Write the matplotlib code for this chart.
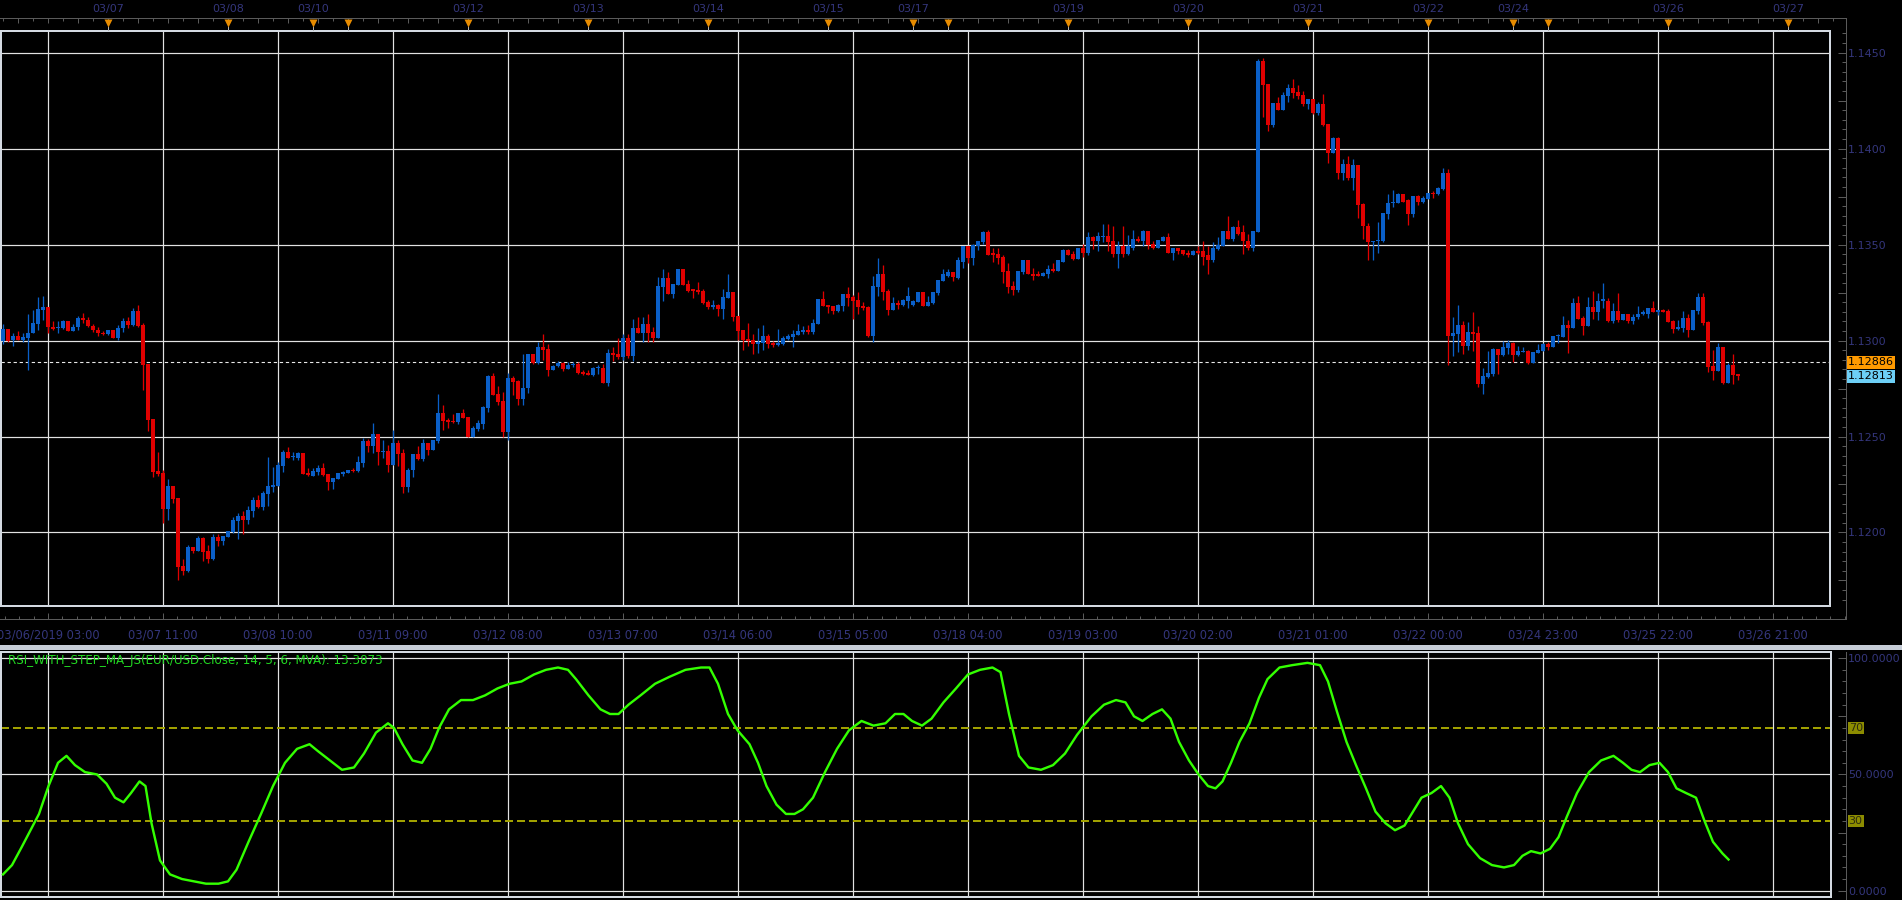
import matplotlib
matplotlib.use("Agg")
import matplotlib.pyplot as plt
import numpy as np
from matplotlib.patches import Rectangle
from matplotlib.ticker import FixedLocator, MultipleLocator
from matplotlib.transforms import blended_transform_factory

# prices are kept as pips above 1.1000
BASE = 1.1
PIP = 0.0001

opens = [
    299.6, 306.2, 300.1, 302.5, 300.4, 301.5, 303.7, 308.8, 316.1, 317.6,
    307.0, 306.5, 306.3, 310.3, 304.8, 306.9, 311.9, 310.9, 307.7, 305.6,
    303.9, 303.2, 305.6, 301.1, 306.3, 310.3, 308.3, 315.6, 308.3, 287.9,
    259.2, 232.2, 231.0, 212.2, 224.2, 218.0, 182.5, 179.9, 192.4, 190.3,
    197.1, 190.3, 186.1, 197.6, 195.5, 197.6, 200.2, 206.0, 208.6, 206.5,
    211.2, 216.9, 213.3, 220.1, 223.7, 224.2, 234.7, 242.0, 239.1, 238.8,
    241.5, 231.0, 229.4, 231.5, 233.6, 230.5, 226.3, 227.9, 230.5, 231.0,
    232.6, 232.0, 236.2, 247.7, 245.1, 251.4, 242.0, 242.5, 235.2, 246.7,
    241.4, 223.7, 232.5, 240.9, 238.3, 246.6, 243.0, 247.7, 262.3, 258.6,
    258.1, 257.6, 262.3, 260.2, 249.8, 253.9, 256.5, 264.9, 281.6, 272.2,
    268.6, 252.4, 280.6, 279.0, 269.6, 275.1, 293.1, 288.4, 296.7, 295.7,
    284.7, 286.8, 288.4, 285.3, 287.3, 287.8, 283.7, 283.2, 282.1, 285.8,
    285.8, 278.0, 293.6, 293.1, 291.5, 301.4, 292.0, 306.6, 304.0, 308.7,
    304.6, 301.4, 328.0, 332.7, 324.4, 329.1, 337.0, 329.6, 326.5, 326.5,
    326.0, 320.2, 317.6, 318.7, 316.6, 322.3, 325.4, 312.9, 305.6, 300.9,
    300.4, 298.3, 298.8, 302.5, 298.8, 297.8, 298.3, 300.9, 302.0, 303.0,
    304.6, 305.6, 304.6, 308.8, 321.8, 318.7, 318.2, 315.6, 318.2, 324.4,
    322.9, 321.3, 318.2, 317.7, 302.5, 328.1, 334.9, 326.0, 316.1, 319.7,
    318.7, 320.8, 318.7, 320.3, 325.5, 318.2, 319.7, 325.0, 331.2, 333.8,
    335.9, 332.8, 341.1, 349.0, 343.2, 349.5, 351.1, 356.3, 345.3, 345.3,
    343.7, 336.4, 328.6, 326.5, 335.9, 341.7, 334.9, 334.4, 333.8, 334.9,
    337.0, 336.4, 341.1, 347.4, 345.3, 342.7, 348.4, 345.8, 353.7, 351.6,
    353.7, 354.7, 351.6, 345.3, 349.5, 345.3, 348.4, 353.1, 352.1, 357.3,
    350.5, 348.4, 352.1, 353.7, 345.8, 348.4, 346.9, 345.8, 344.8, 346.4,
    346.4, 344.3, 341.7, 347.9, 349.5, 357.3, 353.1, 358.9, 356.3, 352.1,
    348.4, 356.3, 445.5, 433.5, 412.1, 423.6, 419.9, 427.2, 431.4, 429.3,
    427.8, 423.1, 425.7, 418.4, 423.1, 412.6, 397.5, 405.3, 387.1, 391.8,
    384.5, 391.2, 370.9, 359.9, 351.1, 351.6, 352.1, 365.7, 371.4, 371.9,
    376.1, 373.0, 365.7, 375.1, 372.4, 373.5, 377.1, 376.1, 378.7, 387.1,
    302.2, 303.6, 308.3, 297.3, 304.6, 304.1, 277.5, 281.2, 282.7, 295.8,
    292.6, 296.3, 298.9, 292.6, 294.2, 294.7, 288.5, 293.7, 294.7, 298.4,
    296.8, 302.2, 302.0, 308.3, 306.7, 319.8, 311.9, 307.8, 317.7, 315.1,
    320.8, 320.8, 310.4, 315.6, 310.9, 314.0, 310.4, 312.5, 313.7, 314.0,
    317.2, 315.1, 316.1, 315.6, 310.4, 306.2, 306.7, 311.9, 305.7, 315.6,
    322.9, 309.9, 286.9, 284.3, 296.8, 278.0, 287.4, 282.7,
]
highs = [
    308.8, 306.2, 303.9, 305.1, 303.9, 314.0, 316.1, 322.5, 323.4, 317.6,
    310.3, 310.3, 310.9, 310.3, 308.8, 312.6, 314.3, 312.4, 308.8, 307.0,
    305.1, 305.6, 305.6, 308.3, 311.7, 312.4, 317.0, 318.7, 309.1, 287.9,
    259.2, 242.1, 232.6, 227.9, 224.2, 218.0, 186.1, 193.4, 192.4, 198.0,
    197.8, 193.4, 199.2, 199.2, 198.1, 201.0, 208.2, 210.1, 211.2, 213.8,
    218.5, 219.5, 221.6, 239.4, 234.1, 236.7, 243.0, 244.6, 242.0, 242.0,
    241.5, 233.6, 233.6, 235.0, 236.2, 230.5, 228.4, 231.0, 232.0, 232.6,
    233.6, 239.9, 249.3, 248.8, 257.1, 251.4, 248.2, 245.6, 253.4, 248.2,
    243.5, 233.6, 240.9, 245.1, 248.7, 246.6, 248.2, 272.2, 266.5, 259.7,
    261.8, 262.3, 264.4, 260.2, 255.5, 258.6, 265.9, 282.1, 283.2, 276.4,
    273.3, 283.2, 281.6, 279.5, 293.1, 293.1, 293.1, 299.3, 303.5, 298.3,
    287.3, 289.5, 288.9, 288.9, 288.9, 288.9, 284.7, 284.7, 286.3, 287.3,
    287.8, 295.7, 296.7, 301.4, 303.5, 303.5, 311.3, 312.4, 312.4, 314.0,
    307.2, 333.3, 337.4, 335.9, 329.6, 337.0, 337.0, 331.7, 326.5, 330.7,
    327.0, 321.3, 321.3, 319.2, 327.0, 334.8, 325.4, 312.9, 305.6, 309.3,
    303.5, 306.6, 308.2, 303.5, 299.9, 306.1, 302.5, 303.5, 305.6, 308.8,
    307.7, 308.3, 311.4, 321.8, 326.0, 318.7, 318.2, 319.2, 324.4, 328.1,
    323.9, 325.5, 320.3, 318.2, 333.8, 343.2, 339.6, 327.0, 322.9, 321.3,
    321.8, 328.1, 321.3, 325.5, 325.5, 323.4, 325.5, 331.7, 337.0, 337.5,
    335.9, 343.7, 349.0, 349.5, 350.5, 351.6, 357.3, 357.8, 348.4, 348.4,
    344.8, 340.6, 331.2, 336.4, 341.7, 341.7, 338.0, 336.4, 335.9, 339.1,
    340.6, 342.2, 347.9, 347.9, 346.4, 348.4, 350.5, 356.3, 354.7, 356.3,
    360.5, 360.5, 359.9, 351.6, 359.4, 355.2, 357.8, 354.7, 357.8, 357.3,
    352.1, 352.6, 354.2, 355.8, 348.4, 348.4, 346.9, 346.9, 347.4, 349.0,
    352.1, 349.5, 351.1, 353.7, 357.3, 365.1, 359.9, 363.0, 360.4, 355.7,
    356.8, 446.5, 447.1, 433.5, 423.6, 426.7, 429.3, 433.5, 436.1, 433.0,
    429.9, 425.7, 425.7, 424.1, 428.3, 412.6, 405.9, 405.9, 394.4, 395.9,
    394.4, 391.2, 371.4, 361.0, 352.1, 362.0, 366.2, 376.1, 378.2, 376.6,
    376.1, 373.5, 375.1, 375.6, 375.1, 377.1, 377.7, 379.8, 389.7, 389.1,
    312.0, 318.7, 310.4, 309.9, 314.6, 307.8, 285.9, 294.7, 296.3, 295.8,
    299.9, 300.5, 299.4, 297.3, 296.8, 295.2, 294.2, 298.4, 298.9, 299.4,
    302.6, 303.6, 313.0, 310.9, 321.9, 323.4, 313.0, 322.9, 326.0, 324.5,
    330.2, 321.9, 319.8, 325.0, 314.0, 314.0, 314.0, 318.2, 316.1, 317.2,
    320.8, 316.1, 316.6, 316.6, 310.9, 310.9, 315.6, 314.0, 316.1, 324.5,
    324.5, 310.4, 295.2, 298.9, 296.8, 288.5, 293.2, 282.7,
]
lows = [
    298.3, 299.0, 297.3, 300.1, 299.0, 284.8, 303.7, 305.3, 310.9, 303.9,
    305.6, 303.9, 306.0, 304.8, 304.8, 305.6, 309.1, 306.9, 304.4, 302.2,
    302.9, 302.7, 301.1, 300.4, 304.3, 306.7, 307.4, 306.9, 274.0, 252.9,
    229.1, 229.6, 205.1, 206.5, 215.5, 175.2, 177.8, 179.3, 189.4, 190.3,
    185.1, 184.0, 185.6, 192.9, 193.4, 197.4, 199.7, 196.6, 199.2, 204.4,
    208.0, 212.7, 211.7, 213.8, 221.1, 224.2, 231.5, 238.8, 237.8, 237.8,
    230.5, 229.4, 229.4, 230.0, 229.4, 222.1, 222.7, 227.9, 229.6, 231.0,
    231.5, 231.5, 234.1, 242.0, 241.5, 235.2, 238.8, 231.5, 235.2, 234.7,
    220.5, 221.1, 228.9, 237.8, 237.2, 240.4, 243.0, 246.6, 253.4, 254.5,
    257.1, 256.5, 259.7, 249.8, 249.8, 252.9, 253.9, 262.8, 271.7, 266.5,
    249.8, 248.2, 271.7, 266.5, 266.5, 272.7, 287.9, 287.9, 290.0, 281.6,
    284.7, 286.3, 284.2, 285.3, 286.3, 282.7, 282.1, 282.1, 281.6, 282.7,
    278.0, 276.4, 289.4, 290.5, 289.9, 291.0, 289.4, 304.0, 299.3, 299.3,
    299.3, 301.4, 320.7, 324.4, 322.3, 329.1, 329.1, 325.4, 322.3, 324.4,
    319.2, 316.6, 316.6, 312.9, 311.3, 322.3, 310.3, 300.4, 295.2, 297.3,
    293.1, 293.6, 295.2, 296.2, 296.7, 297.3, 297.8, 300.4, 296.8, 303.0,
    303.6, 303.6, 303.6, 308.8, 318.2, 314.5, 314.0, 315.1, 315.6, 318.2,
    311.4, 314.0, 316.1, 302.0, 299.4, 323.4, 321.3, 313.5, 316.1, 316.6,
    318.2, 317.1, 318.2, 320.3, 318.2, 318.2, 319.2, 323.9, 331.2, 333.3,
    331.2, 332.3, 338.0, 340.6, 339.6, 346.9, 350.5, 344.8, 341.1, 340.1,
    330.2, 325.0, 323.9, 325.5, 334.4, 334.4, 331.7, 333.8, 333.8, 332.8,
    335.9, 336.4, 341.1, 344.8, 341.7, 342.7, 343.7, 344.8, 347.9, 346.4,
    351.1, 346.4, 343.7, 338.0, 343.7, 344.3, 347.4, 351.1, 349.5, 347.9,
    347.9, 348.4, 351.6, 345.8, 342.2, 345.3, 344.3, 343.7, 344.8, 345.3,
    339.6, 334.9, 341.1, 347.4, 349.0, 353.1, 352.1, 355.2, 345.3, 347.4,
    346.4, 356.3, 416.3, 409.0, 411.1, 419.9, 419.9, 424.1, 426.2, 425.7,
    422.0, 420.5, 417.9, 417.3, 411.6, 392.3, 397.5, 383.9, 383.4, 383.4,
    378.2, 363.6, 353.1, 342.2, 341.7, 345.8, 351.1, 363.1, 369.3, 371.4,
    372.4, 360.4, 364.1, 370.4, 371.4, 373.5, 374.5, 375.6, 378.2, 287.4,
    292.1, 294.2, 293.2, 295.2, 294.7, 275.9, 272.3, 280.6, 281.7, 282.7,
    292.1, 293.2, 289.0, 292.1, 294.2, 287.9, 288.5, 293.7, 294.7, 295.2,
    296.8, 298.9, 302.0, 293.7, 306.7, 311.4, 303.1, 307.8, 311.4, 310.9,
    317.2, 309.9, 309.3, 309.9, 310.9, 309.3, 308.8, 311.4, 313.5, 311.9,
    314.6, 313.5, 314.6, 309.9, 304.1, 305.7, 304.6, 302.0, 305.7, 314.0,
    308.3, 283.8, 279.6, 284.3, 277.5, 278.0, 277.5, 279.6,
]
closes = [
    306.2, 299.9, 302.5, 300.4, 301.8, 304.1, 309.3, 316.6, 317.6, 306.9,
    306.0, 306.7, 310.3, 304.8, 307.2, 311.9, 310.5, 307.4, 305.3, 303.9,
    303.2, 305.6, 301.1, 306.7, 310.3, 308.3, 315.6, 307.7, 287.4, 258.7,
    231.7, 230.5, 212.2, 224.2, 217.4, 181.9, 179.9, 192.4, 190.3, 197.1,
    189.8, 186.1, 197.6, 195.5, 198.1, 200.7, 206.5, 208.6, 206.5, 211.7,
    216.9, 213.3, 220.6, 224.2, 224.7, 235.2, 242.0, 238.8, 239.4, 241.5,
    230.5, 230.0, 232.0, 233.6, 230.0, 226.3, 228.4, 231.0, 231.5, 232.6,
    232.0, 236.7, 247.7, 245.1, 251.4, 242.0, 242.5, 235.2, 246.7, 241.0,
    223.7, 232.5, 240.9, 238.3, 246.6, 243.0, 248.2, 262.3, 258.1, 257.6,
    257.6, 262.3, 259.7, 249.8, 254.5, 257.1, 265.4, 281.6, 271.7, 268.0,
    252.4, 280.6, 278.5, 269.6, 275.3, 293.1, 288.4, 296.7, 295.2, 284.7,
    286.8, 288.4, 285.3, 287.3, 287.8, 283.2, 282.7, 282.1, 285.8, 286.3,
    278.0, 293.6, 292.6, 291.5, 301.4, 292.0, 306.6, 304.0, 308.7, 304.0,
    301.4, 328.6, 332.7, 324.4, 329.6, 337.0, 329.1, 326.0, 326.0, 325.4,
    319.7, 317.6, 318.7, 316.6, 322.8, 325.4, 312.4, 305.1, 300.4, 299.9,
    298.3, 299.3, 302.5, 298.3, 297.8, 298.8, 301.5, 302.5, 303.6, 305.1,
    305.6, 304.6, 309.3, 321.8, 318.2, 317.7, 315.6, 318.7, 324.4, 322.3,
    320.8, 317.7, 317.1, 302.5, 328.6, 334.9, 325.5, 316.1, 319.7, 318.7,
    321.3, 323.4, 320.8, 325.5, 318.2, 320.3, 325.5, 331.7, 334.4, 335.9,
    333.3, 341.7, 349.0, 343.2, 350.0, 351.6, 356.3, 344.8, 344.8, 343.2,
    335.9, 328.1, 326.5, 336.4, 341.7, 334.4, 333.8, 333.8, 335.4, 337.0,
    336.4, 341.7, 347.4, 344.8, 342.7, 348.4, 345.8, 353.7, 351.6, 354.2,
    354.7, 351.1, 345.3, 349.5, 345.3, 349.0, 353.1, 352.1, 357.3, 350.0,
    348.4, 352.6, 353.7, 345.8, 348.4, 346.4, 345.3, 344.8, 346.4, 345.8,
    343.7, 341.7, 348.4, 350.0, 357.3, 353.1, 358.9, 355.7, 351.6, 348.4,
    356.8, 445.5, 433.0, 412.1, 423.6, 419.9, 427.8, 431.4, 428.8, 427.2,
    423.1, 425.7, 418.4, 423.1, 412.1, 397.5, 405.3, 387.1, 391.8, 384.5,
    391.2, 370.4, 359.4, 351.1, 352.1, 352.6, 366.2, 371.9, 372.4, 376.1,
    372.4, 365.7, 375.1, 372.4, 374.0, 377.1, 376.1, 379.2, 387.1, 302.2,
    304.1, 308.3, 297.3, 304.6, 303.6, 277.5, 281.7, 283.2, 295.8, 292.6,
    296.8, 298.9, 292.6, 294.7, 294.7, 288.5, 294.2, 295.2, 298.4, 296.8,
    302.6, 302.6, 308.3, 306.7, 319.8, 311.4, 307.8, 317.7, 315.1, 320.8,
    321.3, 310.4, 315.6, 310.9, 314.0, 310.4, 312.5, 314.0, 314.7, 317.2,
    315.1, 316.1, 315.1, 309.9, 306.2, 307.2, 311.9, 305.7, 316.1, 322.9,
    309.3, 286.4, 284.3, 296.8, 278.0, 287.4, 282.2, 281.3,
]

# RSI line, read at these bar positions
rsi_bar = [
    0, 1.8, 3.8, 5.5, 7.2, 9.1, 11.0, 12.7, 14.4, 16.4,
    18.8, 20.7, 22.4, 24.1, 25.6, 27.3, 28.5, 29.7, 31.4, 33.4,
    35.8, 38.2, 40.6, 43.1, 45.0, 46.7, 49.1, 51.6, 54.0, 56.4,
    58.8, 61.3, 63.0, 65.4, 67.8, 70.2, 72.2, 74.6, 77.0, 78.2,
    79.9, 81.9, 83.8, 85.5, 87.2, 89.2, 91.6, 94.0, 96.4, 98.9,
    101.3, 103.7, 106.2, 108.6, 111.0, 113.0, 114.6, 117.1, 119.5, 121.4,
    123.1, 125.1, 127.5, 130.4, 133.3, 136.5, 139.6, 141.3, 143.0, 145.0,
    146.9, 149.3, 151.0, 152.7, 154.7, 156.6, 158.3, 160.0, 162.0, 164.4,
    166.8, 169.2, 171.7, 174.1, 176.5, 178.4, 180.1, 181.8, 183.8, 185.7,
    188.1, 190.6, 193.0, 195.4, 197.9, 199.5, 201.2, 203.2, 205.1, 207.6,
    210.0, 212.4, 214.8, 217.7, 220.2, 222.6, 224.5, 226.2, 227.9, 229.9,
    231.8, 233.5, 235.2, 237.2, 239.1, 241.0, 242.5, 243.9, 245.6, 247.3,
    249.3, 251.2, 252.9, 255.3, 257.8, 260.9, 263.4, 265.0, 266.8, 268.7,
    270.6, 272.6, 274.5, 276.5, 278.4, 280.3, 282.0, 283.7, 285.7, 287.6,
    289.3, 291.0, 293.0, 295.4, 297.8, 300.2, 302.2, 303.9, 305.6, 307.5,
    309.4, 311.1, 312.8, 314.8, 317.2, 319.6, 322.1, 324.0, 325.7, 327.4,
    329.3, 331.3, 333.0, 334.7, 336.6, 338.6, 340.3, 342.0, 343.9, 345.1,
]
rsi_val = [
    7, 11, 19, 26, 33, 45, 55, 58, 54, 51,
    50, 46, 40, 38, 42, 47, 45, 29, 13, 7,
    5, 4, 3, 3, 4, 9, 21, 33, 45, 55,
    61, 63, 60, 56, 52, 53, 59, 68, 72, 70,
    63, 56, 55, 61, 70, 78, 82, 82, 84, 87,
    89, 90, 93, 95, 96, 95, 91, 84, 78, 76,
    76, 80, 84, 89, 92, 95, 96, 96, 89, 76,
    69, 63, 55, 45, 37, 33, 33, 35, 40, 51,
    61, 69, 73, 71, 72, 76, 76, 73, 71, 74,
    81, 87, 93, 95, 96, 94, 76, 58, 53, 52,
    54, 59, 67, 75, 80, 82, 81, 75, 73, 76,
    78, 74, 64, 56, 50, 45, 44, 47, 55, 64,
    72, 83, 91, 96, 97, 98, 97, 90, 77, 64,
    54, 44, 34, 29, 26, 28, 34, 40, 42, 45,
    40, 29, 20, 14, 11, 10, 11, 15, 17, 16,
    18, 23, 32, 42, 51, 56, 58, 55, 52, 51,
    54, 55, 51, 44, 42, 40, 30, 21, 16, 13.4,
]

time_bars = [9, 32, 55, 78, 101, 124, 147, 170, 193, 216, 239, 262, 285, 308, 331, 354]
time_labels = ["03/06/2019 03:00", "03/07 11:00", "03/08 10:00", "03/11 09:00",
               "03/12 08:00", "03/13 07:00", "03/14 06:00", "03/15 05:00",
               "03/18 04:00", "03/19 03:00", "03/20 02:00", "03/21 01:00",
               "03/22 00:00", "03/24 23:00", "03/25 22:00", "03/26 21:00"]
day_bars = [21, 45, 62, 69, 93, 117, 141, 165, 182, 189, 213, 237, 261, 285, 302, 309, 333, 357]
day_labels = ["03/07", "03/08", "03/10", "", "03/12", "03/13", "03/14", "03/15", "03/17", "",
              "03/19", "03/20", "03/21", "03/22", "03/24", "", "03/26", "03/27"]
price_ticks = [1.1200, 1.1250, 1.1300, 1.1350, 1.1400, 1.1450]
rsi_ticks = [0, 50, 100]
rsi_levels = [70, 30]
ask_price = 1.12886
last_price = 1.12813
rsi_title = "RSI_WITH_STEP_MA_JS(EUR/USD.Close, 14, 5, 6, MVA): 13.3873"

# colours
BLUE = "#0a5fc8"
RED = "#e00000"
GRID = "#e2e2e2"
FRAME = "#d4dae2"
NAVY = "#34367c"
AXC = "#5a5a5a"
ORANGE = "#e88c00"
LIME = "#33ff00"
OLIVE = "#a0a000"

W, H = 1902, 900
PX = 0.72  # points per pixel at dpi 100

plt.rcParams["font.family"] = ["DejaVu Sans"]


def box(l, t, r, b):
    return [l / W, 1 - b / H, (r - l) / W, (b - t) / H]


def bar_at(x):
    # pixel column -> bar index (first bar at x=3, one bar every 5 px)
    return (x - 3) / 5.0


fig = plt.figure(figsize=(W / 100, H / 100), dpi=100, facecolor="black")

# background: panel separator and the vertical scale lines
bg = fig.add_axes([0, 0, 1, 1])
bg.set_xlim(0, W)
bg.set_ylim(H, 0)
bg.set_axis_off()
bg.set_zorder(-1)
bg.add_patch(Rectangle((0, 644.5), W, 5, color="#c6cdd7", lw=0))
bg.plot([1845.7, 1845.7], [18.3, 619.3], color=AXC, lw=PX)
bg.plot([1845.7, 1845.7], [651.7, 900], color=AXC, lw=PX)

o = BASE + np.array(opens) * PIP
h = BASE + np.array(highs) * PIP
l = BASE + np.array(lows) * PIP
c = BASE + np.array(closes) * PIP
idx = np.arange(len(o))
col = np.where(c >= o, BLUE, RED)
pmin, pmax = BASE + 161.7 * PIP, BASE + 461.4 * PIP

# ---- price panel ----
ax = fig.add_axes(box(1, 30.7, 1830, 606), facecolor="black")
ax.set_xticks(time_bars)
ax.set_yticks(price_ticks)
ax.set_xlim(bar_at(1), bar_at(1830))
ax.set_ylim(pmin, pmax)
ax.grid(True, color=GRID, lw=1.2 * PX)
ax.set_axisbelow(True)
ax.tick_params(length=0, labelbottom=False, labelleft=False)
for s in ax.spines.values():
    s.set_color(FRAME)
    s.set_linewidth(2 * PX)
ax.axhline(ask_price, color="#e8e8e8", lw=1.1 * PX, ls=(0, (3, 2.5)), zorder=2)
ax.vlines(idx, l, h, colors=col, lw=1.3 * PX, zorder=3)
ax.bar(idx, np.maximum(np.abs(c - o), 0.6 * PIP), bottom=np.minimum(o, c),
       width=0.8, color=col, lw=0, zorder=4)

# price scale on the right
ax_ps = fig.add_axes(box(1, 30.7, 1845.7, 606))
ax_ps.patch.set_visible(False)
ax_ps.set_xticks([])
for s in ax_ps.spines.values():
    s.set_visible(False)
ax_ps.yaxis.tick_right()
major = np.round(np.arange(1.1175, 1.1476, 0.0025), 4)
ax_ps.set_yticks(major, labels=[f"{v:.4f}" if any(abs(v - p) < 1e-6 for p in price_ticks) else ""
                                for v in major])
ax_ps.yaxis.set_minor_locator(MultipleLocator(0.0005))
ax_ps.set_ylim(pmin, pmax)
ax_ps.tick_params(axis="y", which="both", direction="in", color=AXC, width=PX,
                  labelsize=8, labelcolor=NAVY, pad=2.5 * PX)
ax_ps.tick_params(axis="y", which="major", length=8 * PX)
ax_ps.tick_params(axis="y", which="minor", length=4 * PX)
tr = blended_transform_factory(ax_ps.transAxes, ax_ps.transData)
ax_ps.text(1.0012, ask_price, f"{ask_price:.5f}", transform=tr, ha="left", va="center",
           fontsize=8, color="black",
           bbox=dict(boxstyle="square,pad=0.12", fc="#ff9a00", ec="none"))
ax_ps.text(1.0012, last_price, f"{last_price:.5f}", transform=tr, ha="left", va="center",
           fontsize=8, color="black",
           bbox=dict(boxstyle="square,pad=0.12", fc="#6dcff6", ec="none"))

# top date strip
ax_top = fig.add_axes(box(0, 18.3, 1845.7, 30.7))
ax_top.patch.set_visible(False)
for k, s in ax_top.spines.items():
    s.set_visible(k == "top")
ax_top.spines["top"].set_color(AXC)
ax_top.spines["top"].set_linewidth(PX)
ax_top.xaxis.tick_top()
ax_top.set_xticks(np.arange(3, 369, 6))
ax_top.xaxis.set_minor_locator(FixedLocator(np.arange(0, 369, 3)))
ax_top.set_yticks([])
ax_top.set_xlim(bar_at(0), bar_at(1845.7))
ax_top.set_ylim(0, 1)
ax_top.tick_params(axis="x", which="both", direction="in", color=AXC, width=PX, labeltop=False)
ax_top.tick_params(axis="x", which="major", length=5 * PX)
ax_top.tick_params(axis="x", which="minor", length=3 * PX)
ax_top.vlines(day_bars, 0, 0.4, colors="#b0b0b0", lw=PX)
ax_top.plot(day_bars, [0.6] * len(day_bars), "v", ms=6.3, color=ORANGE, mec="none")
for b, lab in zip(day_bars, day_labels):
    if lab:
        ax_top.text(b, 1 + (18.3 - 9) / 12.4, lab, ha="center", va="center",
                    color=NAVY, fontsize=8, clip_on=False)

# bottom time axis
ax_bot = fig.add_axes(box(0, 606, 1845.7, 619.3))
ax_bot.patch.set_visible(False)
for k, s in ax_bot.spines.items():
    s.set_visible(k == "bottom")
ax_bot.spines["bottom"].set_color(AXC)
ax_bot.spines["bottom"].set_linewidth(PX)
ax_bot.set_yticks([])
ax_bot.set_xticks(time_bars, labels=time_labels)
ax_bot.xaxis.set_minor_locator(FixedLocator(np.arange(9 - 3 * 2.875, 369, 2.875)))
ax_bot.set_xlim(bar_at(0), bar_at(1845.7))
ax_bot.tick_params(axis="x", which="both", direction="in", color=AXC, width=PX,
                   labelsize=8.3, labelcolor=NAVY, pad=6.5)
ax_bot.tick_params(axis="x", which="major", length=6 * PX)
ax_bot.tick_params(axis="x", which="minor", length=3 * PX)

# ---- RSI panel ----
ax_r = fig.add_axes(box(1, 651.7, 1830.7, 896.7), facecolor="black")
ax_r.set_xticks(time_bars)
ax_r.set_yticks(rsi_ticks)
ax_r.set_xlim(bar_at(1), bar_at(1830.7))
ax_r.set_ylim(-2.6, 102.8)
ax_r.grid(True, color=GRID, lw=1.2 * PX)
ax_r.set_axisbelow(True)
ax_r.tick_params(length=0, labelbottom=False, labelleft=False)
for s in ax_r.spines.values():
    s.set_color(FRAME)
    s.set_linewidth(2 * PX)
for lv in rsi_levels:
    ax_r.axhline(lv, color=OLIVE, lw=2 * PX, ls=(0, (4, 2)), zorder=2)
ax_r.plot(rsi_bar, rsi_val, color=LIME, lw=2.4 * PX, zorder=3)
ax_r.text(0.004, 0.963, rsi_title, transform=ax_r.transAxes, ha="left", va="center",
          fontsize=8.6, color="#22d822")

# RSI scale on the right
ax_rs = fig.add_axes(box(1, 651.7, 1845.7, 896.7))
ax_rs.patch.set_visible(False)
ax_rs.set_xticks([])
for s in ax_rs.spines.values():
    s.set_visible(False)
ax_rs.yaxis.tick_right()
ax_rs.set_yticks([0, 25, 50, 75, 100],
                 labels=[f"{v:.4f}" if v in rsi_ticks else "" for v in [0, 25, 50, 75, 100]])
ax_rs.yaxis.set_minor_locator(MultipleLocator(5))
ax_rs.set_ylim(-2.6, 102.8)
ax_rs.tick_params(axis="y", which="both", direction="in", color=AXC, width=PX,
                  labelsize=8, labelcolor=NAVY, pad=2.5 * PX)
ax_rs.tick_params(axis="y", which="major", length=8 * PX)
ax_rs.tick_params(axis="y", which="minor", length=4 * PX)
tr2 = blended_transform_factory(ax_rs.transAxes, ax_rs.transData)
for lv in rsi_levels:
    ax_rs.text(1.0016, lv, str(lv), transform=tr2, ha="left", va="center", fontsize=8,
               color="#2a2a10", bbox=dict(boxstyle="square,pad=0.1", fc="#8c8c00", ec="none"))

fig.savefig("out.png", dpi=100, facecolor="black")
